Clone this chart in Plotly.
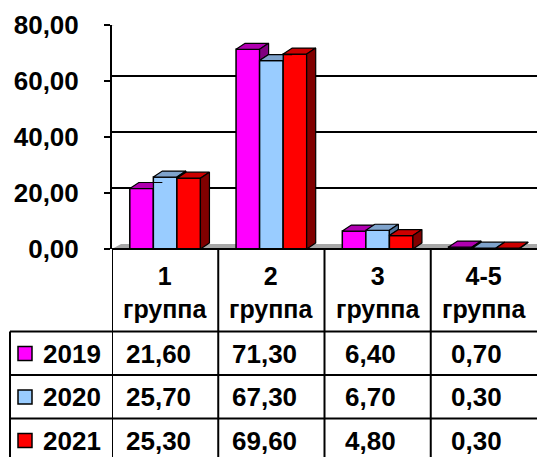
import plotly.graph_objects as go

# ---------------- data ----------------
categories = ["1<br>группа", "2<br>группа", "3<br>группа", "4-5<br>группа"]
years = ["2019", "2020", "2021"]
v2019 = [21.60, 71.30, 6.40, 0.70]
v2020 = [25.70, 67.30, 6.70, 0.30]
v2021 = [25.30, 69.60, 4.80, 0.30]
y_ticks = [0, 20, 40, 60, 80]

# ---------------- style ----------------
front_colors = ["#FF00FF", "#99CCFF", "#FF0000"]
top_colors = ["#B000B0", "#7FA3CC", "#CC0000"]
side_colors = ["#800080", "#4D7399", "#800000"]
FONT = "Liberation Sans, Arial, sans-serif"

W, H = 537, 457
ML, MR, MT, MB = 112, 0, 25, 208
PW, PH = W - ML - MR, H - MT - MB
XR, YR = [0, 4], [0, 80]
ux = PW / (XR[1] - XR[0])
uy = PH / (YR[1] - YR[0])

DX, DY = 9 / ux, 6 / uy        # bar depth
GDX, GDY = 9 / ux, 5 / uy      # wall depth
BARGAP = 0.335
n = 3
bw = (1 - BARGAP) / n

series = [v2019, v2020, v2021]
xc = [i + 0.5 for i in range(len(categories))]


def pyp(p):  # pixel y -> paper y
    return (H - MB - p) / PH


def pxp(p):  # pixel x -> paper x
    return (p - ML) / PW


fig = go.Figure()

for j, vals in enumerate(series):
    fig.add_trace(go.Bar(
        x=xc, y=vals, name=years[j], showlegend=False,
        marker=dict(color=front_colors[j], line=dict(color="black", width=1.5)),
        hoverinfo="skip"))

for j, vals in enumerate(series):
    tx, ty, sx, sy = [], [], [], []
    for i, v in enumerate(vals):
        x0 = xc[i] + (j - (n - 1) / 2 - 0.5) * bw
        x1 = x0 + bw
        nv = series[j + 1][i] if j + 1 < n else 0
        nc = max(v, min(nv, v + DY))
        xs = x1 + (nc - v) / DY * DX
        tx += [x0, x1, x1, xs, x1 + DX, x0 + DX, x0, None]
        ty += [v, v, nc, nc, v + DY, v + DY, v, None]
        if nv < v:
            sx += [x1, x1 + DX, x1 + DX, x1, x1, None]
            sy += [nv, nv + DY, v + DY, v, nv, None]
    fig.add_trace(go.Scatter(x=tx, y=ty, mode="lines", fill="toself",
                             fillcolor=top_colors[j],
                             line=dict(color="black", width=1.2),
                             showlegend=False, hoverinfo="skip"))
    if sx:
        fig.add_trace(go.Scatter(x=sx, y=sy, mode="lines", fill="toself",
                                 fillcolor=side_colors[j],
                                 line=dict(color="black", width=1.2),
                                 showlegend=False, hoverinfo="skip"))

shapes = []
# floor
shapes.append(dict(type="path", xref="x", yref="y", layer="below",
                   path=f"M 0,0 L {XR[1]},0 L {XR[1]},{GDY} L {GDX},{GDY} Z",
                   fillcolor="#A8A8A8", line=dict(width=0)))
# back gridlines
for t in y_ticks[1:-1]:
    shapes.append(dict(type="line", xref="paper", yref="y", layer="below",
                       x0=0, x1=1, y0=t + GDY, y1=t + GDY,
                       line=dict(color="black", width=2)))
# back wall top edge
shapes.append(dict(type="line", xref="x", yref="y", layer="below",
                   x0=GDX, x1=XR[1], y0=YR[1] + GDY, y1=YR[1] + GDY,
                   line=dict(color="#C0C0C0", width=2)))
shapes.append(dict(type="line", xref="x", yref="y", layer="below",
                   x0=0, x1=GDX, y0=YR[1], y1=YR[1] + GDY,
                   line=dict(color="#C0C0C0", width=2)))

# ---------------- data table ----------------
LW = 2
row_lines = [331.5, 375, 418.5]
row_centers = [353.5, 397, 440.5]
# top line of table (category axis line)
shapes.append(dict(type="line", xref="x", yref="paper", x0=0, x1=XR[1],
                   y0=0, y1=0, line=dict(color="black", width=LW)))
for r in row_lines:
    shapes.append(dict(type="line", xref="paper", yref="paper",
                       x0=pxp(10), x1=1, y0=pyp(r), y1=pyp(r),
                       line=dict(color="black", width=LW)))
shapes.append(dict(type="line", xref="paper", yref="paper",
                   x0=pxp(10), x1=pxp(10), y0=pyp(row_lines[0]), y1=pyp(470),
                   line=dict(color="black", width=LW)))
for i in range(len(categories)):
    shapes.append(dict(type="line", xref="x", yref="paper",
                       x0=i, x1=i, y0=0, y1=pyp(470),
                       line=dict(color="black", width=LW)))

annotations = []
for i, c in enumerate(categories):
    annotations.append(dict(xref="x", yref="paper", x=xc[i], y=pyp(292),
                            text=f"<b>{c}</b>", showarrow=False,
                            font=dict(family=FONT, size=25, color="black"),
                            xanchor="center", yanchor="middle"))
for j, vals in enumerate(series):
    yc = row_centers[j]
    shapes.append(dict(type="rect", xref="paper", yref="paper",
                       x0=pxp(18), x1=pxp(32), y0=pyp(yc - 7), y1=pyp(yc + 7),
                       fillcolor=front_colors[j], line=dict(color="black", width=1.5)))
    annotations.append(dict(xref="paper", yref="paper", x=pxp(41), y=pyp(yc),
                            text=f"<b>{years[j]}</b>", showarrow=False,
                            font=dict(family=FONT, size=26, color="black"),
                            xanchor="left", yanchor="middle"))
    for i, v in enumerate(vals):
        txt = f"{v:.2f}".replace(".", ",")
        annotations.append(dict(xref="x", yref="paper", x=xc[i] - 7 / ux, y=pyp(yc),
                                text=f"<b>{txt}</b>", showarrow=False,
                                font=dict(family=FONT, size=26, color="black"),
                                xanchor="center", yanchor="middle"))

fig.update_layout(
    width=W, height=H,
    margin=dict(l=ML, r=MR, t=MT, b=MB, pad=0, autoexpand=False),
    paper_bgcolor="white", plot_bgcolor="white",
    barmode="group", bargap=BARGAP, bargroupgap=0,
    separators=", ",
    shapes=shapes, annotations=annotations,
    showlegend=False,
    xaxis=dict(range=XR, showticklabels=False, showgrid=False, zeroline=False,
               showline=False, ticks="", automargin=False),
    yaxis=dict(range=YR, tickvals=y_ticks, tickformat=".2f", showgrid=False,
               zeroline=False, showline=True, linecolor="black", linewidth=2,
               ticks="outside", ticklen=6, tickwidth=2, tickcolor="black",
               ticklabelstandoff=20, automargin=False,
               tickfont=dict(family=FONT, size=26, color="black", weight="bold")),
)

fig.write_html("out.html", config={"displayModeBar": False},
               post_script="document.body.style.margin='0';document.body.style.overflow='hidden';")
